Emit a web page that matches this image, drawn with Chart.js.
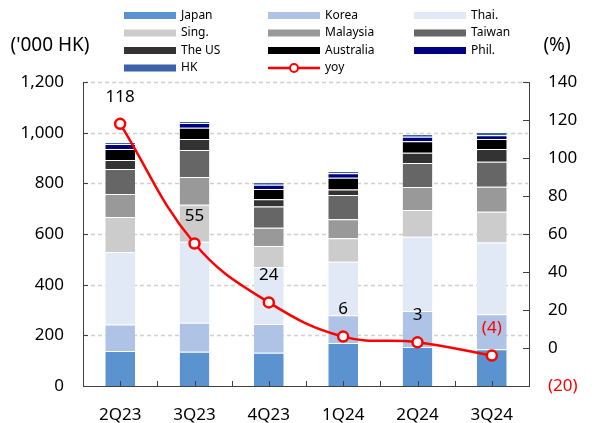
<!DOCTYPE html>
<html>
<head>
<meta charset="utf-8">
<script src="https://cdn.jsdelivr.net/npm/chart.js@4/dist/chart.umd.min.js"></script>
<style>
  body { margin: 0; background: #fff; }
  #wrap { width: 594px; height: 423px; position: relative; }
</style>
</head>
<body>
<div id="wrap"><canvas id="chart"></canvas></div>
<script>
const quarters = ['2Q23', '3Q23', '4Q23', '1Q24', '2Q24', '3Q24'];

// visitor arrivals by market, '000
const japan     = [138, 135, 131, 170, 154, 145];
const korea     = [105, 115, 114, 109, 142, 138];
const thai      = [286, 319, 224, 211, 293, 283];
const sing      = [138, 146,  84,  93, 106, 122];
const malaysia  = [ 91, 110,  72,  75,  91,  99];
const taiwan    = [ 99, 107,  84,  96,  94,  98];
const theUS     = [ 35,  43,  28,  22,  41,  51];
const australia = [ 44,  44,  41,  46,  45,  39];
const phil      = [ 19,  19,  16,  18,  18,  15];
const hk        = [  8,   8,  11,   9,  11,  13];

// year-on-year change, %
const yoy = [118, 55, 24, 6, 3, -4];

const axisColor = '#404040';
const red = '#FF0000';
const fontFamily = '"Noto Sans", "DejaVu Sans", sans-serif';

Chart.defaults.font.family = fontFamily;
Chart.defaults.color = '#000';

function bar(label, data, color) {
    return {
        type: 'bar',
        label: label,
        data: data,
        backgroundColor: color,
        borderColor: 'rgba(255,255,255,0.45)',
        borderWidth: { top: 1, left: 0, right: 0, bottom: 0 },
        borderSkipped: false,
        yAxisID: 'y',
        stack: 'arrivals',
        categoryPercentage: 1,
        barPercentage: 0.4,
        order: 1
    };
}

const datasets = [
    bar('Japan', japan, '#5B93D0'),
    bar('Korea', korea, '#AEC3E5'),
    bar('Thai.', thai, '#E1E8F6'),
    bar('Sing.', sing, '#CCCCCC'),
    bar('Malaysia', malaysia, '#999999'),
    bar('Taiwan', taiwan, '#666666'),
    bar('The US', theUS, '#333333'),
    bar('Australia', australia, '#000000'),
    bar('Phil.', phil, '#000080'),
    bar('HK', hk, '#3C62AA'),
    {
        type: 'line',
        label: 'yoy',
        data: yoy,
        yAxisID: 'y1',
        borderColor: red,
        borderWidth: 2.5,
        tension: 0.4,
        pointRadius: 5,
        pointBorderWidth: 2.5,
        pointBackgroundColor: '#fff',
        pointBorderColor: red,
        order: 0
    }
];

const fmtPct = v => v < 0 ? '(' + (-v) + ')' : String(v);

// legend, axis titles, gridlines, inward tick marks and yoy labels
const overlay = {
    id: 'overlay',
    beforeDatasetsDraw(chart) {
        // dashed gridlines on the left scale, behind the bars
        const ctx = chart.ctx;
        const area = chart.chartArea, y = chart.scales.y;
        ctx.save();
        ctx.strokeStyle = '#D0D0D0';
        ctx.lineWidth = 1.5;
        ctx.setLineDash([4, 3]);
        y.ticks.forEach(t => {
            if (t.value === 0) return;
            const py = Math.round(y.getPixelForValue(t.value)) + 0.5;
            ctx.beginPath();
            ctx.moveTo(area.left + 1, py);
            ctx.lineTo(area.right - 1, py);
            ctx.stroke();
        });
        ctx.restore();
    },
    afterDatasetsDraw(chart) {
        const ctx = chart.ctx;
        const x = chart.scales.x, y = chart.scales.y, y1 = chart.scales.y1;
        ctx.save();
        ctx.strokeStyle = axisColor;
        ctx.lineWidth = 1;
        ctx.beginPath();
        y.ticks.forEach(t => {
            const py = Math.round(y.getPixelForValue(t.value)) + 0.5;
            ctx.moveTo(x.left, py);
            ctx.lineTo(x.left + 5, py);
        });
        y1.ticks.forEach(t => {
            const py = Math.round(y1.getPixelForValue(t.value)) + 0.5;
            ctx.moveTo(x.right, py);
            ctx.lineTo(x.right - 6, py);
        });
        const half = (x.getPixelForValue(1) - x.getPixelForValue(0)) / 2;
        quarters.forEach((q, i) => {
            const c = x.getPixelForValue(i);
            [c - half, c].forEach(px => {
                const rx = Math.round(px) + 0.5;
                ctx.moveTo(rx, y.bottom);
                ctx.lineTo(rx, y.bottom - 5);
            });
        });
        ctx.stroke();

        const meta = chart.getDatasetMeta(datasets.length - 1);
        ctx.font = '17px ' + fontFamily;
        ctx.textAlign = 'center';
        ctx.textBaseline = 'middle';
        meta.data.forEach((pt, i) => {
            ctx.fillStyle = yoy[i] < 0 ? red : '#000';
            ctx.fillText(fmtPct(yoy[i]), pt.x, pt.y - 27);
        });
        ctx.restore();
    },
    afterDraw(chart) {
        const ctx = chart.ctx;
        ctx.save();
        ctx.font = '19px ' + fontFamily;
        ctx.fillStyle = '#000';
        ctx.textBaseline = 'middle';
        ctx.textAlign = 'center';
        ctx.fillText("('000 HK)", 50, 46);
        ctx.fillText('(%)', 557, 46);

        const colX = [124, 268, 414];
        const rowY = [15.5, 33, 50.5, 68];
        ctx.font = '12px ' + fontFamily;
        ctx.textAlign = 'left';
        chart.data.datasets.forEach((ds, i) => {
            const bx = colX[i % 3], cy = rowY[Math.floor(i / 3)];
            if (ds.type === 'line') {
                ctx.strokeStyle = ds.borderColor;
                ctx.lineWidth = 2.5;
                ctx.beginPath();
                ctx.moveTo(bx, cy);
                ctx.lineTo(bx + 52, cy);
                ctx.stroke();
                ctx.beginPath();
                ctx.arc(bx + 26, cy, 4, 0, Math.PI * 2);
                ctx.fillStyle = '#fff';
                ctx.fill();
                ctx.lineWidth = 2;
                ctx.stroke();
            } else {
                ctx.fillStyle = ds.backgroundColor;
                ctx.fillRect(bx, cy - 3.5, 52, 7);
            }
            ctx.fillStyle = '#000';
            ctx.fillText(ds.label, bx + 57, cy);
        });
        ctx.restore();
    }
};

new Chart(document.getElementById('chart'), {
    data: { labels: quarters, datasets: datasets },
    options: {
        responsive: true,
        maintainAspectRatio: false,
        animation: false,
        layout: { padding: { top: 82, left: 0, right: 0, bottom: 0 } },
        plugins: {
            legend: { display: false },
            tooltip: { enabled: false }
        },
        scales: {
            x: {
                stacked: true,
                offset: true,
                z: 1,
                afterFit: s => { s.height = 37; },
                grid: { display: false },
                border: { display: true, color: axisColor, width: 1 },
                ticks: { font: { size: 17 }, color: '#000', padding: 11, maxRotation: 0 }
            },
            y: {
                stacked: true,
                position: 'left',
                min: 0,
                max: 1200,
                afterFit: s => { s.width = 83; },
                grid: { display: false, drawTicks: false },
                border: { display: true, color: axisColor, width: 1 },
                ticks: {
                    stepSize: 200,
                    padding: 19,
                    font: { size: 17 },
                    color: '#000',
                    callback: v => v.toLocaleString('en-US')
                }
            },
            y1: {
                position: 'right',
                min: -20,
                max: 140,
                afterFit: s => { s.width = 65; },
                grid: { display: false, drawTicks: false },
                border: { display: true, color: axisColor, width: 1 },
                ticks: {
                    stepSize: 20,
                    padding: 19,
                    font: { size: 17 },
                    color: c => c.tick.value < 0 ? red : '#000',
                    callback: v => fmtPct(v)
                }
            }
        }
    },
    plugins: [overlay]
});
</script>
</body>
</html>
